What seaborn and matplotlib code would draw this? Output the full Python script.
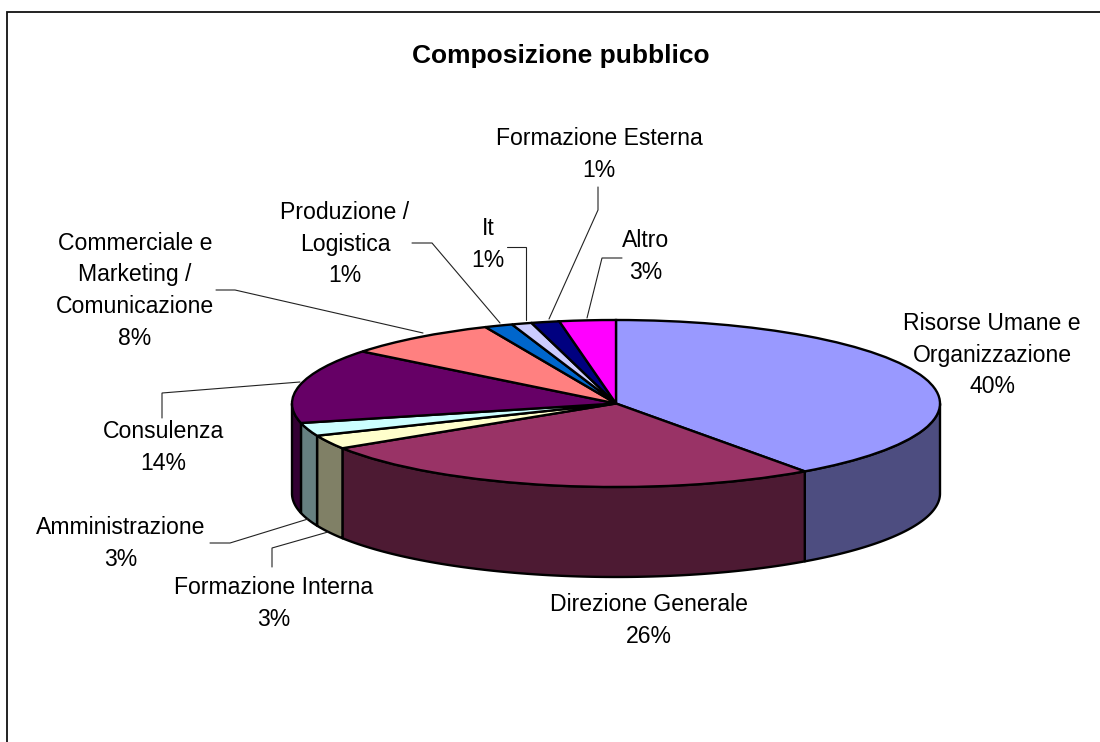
import numpy as np
import matplotlib
matplotlib.use("Agg")
import matplotlib.pyplot as plt
import seaborn as sns

TITLE = "Composizione pubblico"
categories = ["Risorse Umane e\nOrganizzazione", "Direzione Generale", "Formazione Interna",
              "Amministrazione", "Consulenza", "Commerciale e\nMarketing /\nComunicazione",
              "Produzione /\nLogistica", "It", "Formazione Esterna", "Altro"]
values = [40.1, 25.9, 2.7, 2.55, 14.45, 7.7, 1.4, 1.0, 1.4, 2.8]
hex_colors = ["#9999FF", "#993366", "#FFFFCC", "#CCFFFF", "#660066",
              "#FF8080", "#0066CC", "#CCCCFF", "#000080", "#FF00FF"]
# label centre (px) of each category
label_x = [992, 649, 274, 121, 163, 135, 345, 488, 599, 646]
label_y = [355.2, 620.7, 603.7, 543.7, 447.7, 290.7, 244.2, 244.7, 154.7, 256.7]
leaders = {
    "Commerciale": [(216, 290), (235, 290), (423, 333)],
    "Produzione": [(412, 243), (432, 243), (500, 323)],
    "It": [(507, 247), (526, 247), (526, 320)],
    "Esterna": [(598, 187), (598, 210), (549, 319)],
    "Altro": [(622, 258), (602, 258), (587, 318)],
    "Consulenza": [(162, 418), (162, 393), (300, 382)],
    "Amministrazione": [(210, 543), (230, 543), (308, 519)],
    "Interna": [(272, 567), (272, 548), (328, 532)],
}

W, H = 1100, 742
sns.set_theme(style="white")
plt.rcParams["font.family"] = ["Liberation Sans", "DejaVu Sans"]
palette = sns.color_palette(hex_colors)
side_colors = [tuple(c * 0.5 for c in col) for col in palette]

fig = plt.figure(figsize=(W / 100, H / 100), dpi=100, facecolor="white")

# pie geometry in pixels
cx0, cx1, top, bot_top, depth_px = 292, 940, 320, 487, 90
ax = fig.add_axes([cx0 / W, 1 - (bot_top + depth_px) / H, (cx1 - cx0) / W,
                   (bot_top + depth_px - top) / H])
depth = depth_px / ((bot_top - top) / 2)
EDGE = 1.7

# side walls
cum = np.concatenate([[0], np.cumsum(values)]) / np.sum(values) * 2 * np.pi
for i in range(len(values)):
    a0, a1 = max(cum[i], np.pi / 2), min(cum[i + 1], 3 * np.pi / 2)
    if a1 <= a0:
        continue
    t = np.linspace(a0, a1, 120)
    xs, ys = np.sin(t), np.cos(t)
    ax.fill(np.r_[xs, xs[::-1]], np.r_[ys, ys[::-1] - depth], facecolor=side_colors[i],
            edgecolor="black", linewidth=EDGE, joinstyle="round", clip_on=False, zorder=1)

# top face
ax.pie(values, colors=palette, startangle=90, counterclock=False, radius=1,
       wedgeprops=dict(edgecolor="black", linewidth=EDGE, zorder=2, clip_on=False))
ax.set_aspect("auto")
ax.set_xlim(-1, 1)
ax.set_ylim(-1 - depth, 1)
ax.axis("off")

# pixel overlay for frame, leader lines and text
ov = fig.add_axes([0, 0, 1, 1], zorder=5)
ov.set_xlim(0, W)
ov.set_ylim(H, 0)
ov.axis("off")
ov.patch.set_alpha(0)

ov.plot([6.5, 6.5, W], [H, 12, 12], color="#111111", lw=1.3, solid_joinstyle="miter")
for pts in leaders.values():
    x, y = zip(*pts)
    ov.plot(x, y, color="#222222", lw=0.8, solid_joinstyle="miter")

for name, v, x, y in zip(categories, values, label_x, label_y):
    ov.text(x, y, f"{name}\n{round(v):d}%", ha="center", va="center", ma="center",
            fontsize=16.6, color="black", linespacing=1.48)
ov.text(561, 56, TITLE, ha="center", va="center", fontsize=19, fontweight="bold", color="black")

fig.savefig("out.png", dpi=100, facecolor="white")
